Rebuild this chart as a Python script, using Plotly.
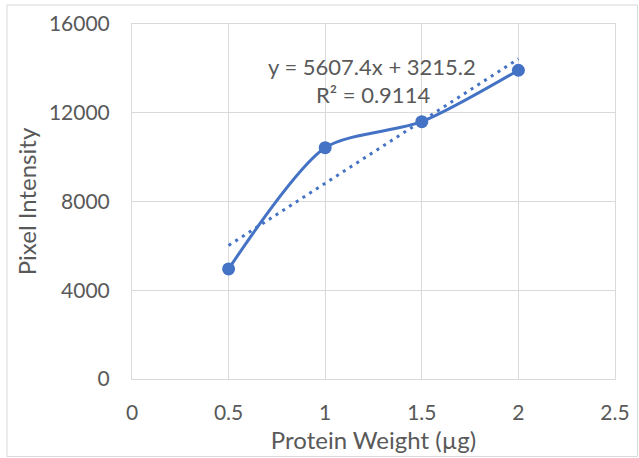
import numpy as np
import plotly.graph_objects as go

protein_ug = [0.5, 1.0, 1.5, 2.0]
pixel_intensity = [4961, 10424, 11596, 13916]
x_ticks = [0, 0.5, 1, 1.5, 2, 2.5]
x_tick_labels = ["0", "0.5", "1", "1.5", "2", "2.5"]
y_ticks = [0, 4000, 8000, 12000, 16000]
y_tick_labels = ["0", "4000", "8000", "12000", "16000"]
eq_text = "y = 5607.4x + 3215.2"
r2_text = "R² = 0.9114"

BLUE = "#4472C4"
GRID = "#D9D9D9"
TXT = "#595959"
FONT = "Lato"

slope, intercept = np.polyfit(protein_ug, pixel_intensity, 1)
trend_x = [min(protein_ug), max(protein_ug)]
trend_y = [slope * v + intercept for v in trend_x]

fig = go.Figure()
fig.add_trace(go.Scatter(x=trend_x, y=trend_y, mode="lines",
                         line=dict(color=BLUE, width=3, dash="3px,5px"),
                         hoverinfo="skip", showlegend=False))
fig.add_trace(go.Scatter(x=protein_ug, y=pixel_intensity, mode="lines+markers",
                         line=dict(color=BLUE, width=3, shape="spline", smoothing=0.75),
                         marker=dict(color=BLUE, size=13),
                         showlegend=False))

W, H = 639, 458
ml, mr, mt, mb = 132, 24, 24, 79
pw, ph = W - ml - mr, H - mt - mb

def px(xp):
    return (xp - ml) / pw

def py(yp):
    return (H - mb - yp) / ph

fig.add_shape(type="rect", xref="paper", yref="paper",
              x0=px(7), x1=px(637.5), y0=py(456.5), y1=py(5),
              line=dict(color=GRID, width=1), layer="below")

fig.add_annotation(x=px(372), y=py(67), xref="paper", yref="paper",
                   xanchor="center", yanchor="middle",
                   text=eq_text, showarrow=False,
                   font=dict(family=FONT, size=22, color=TXT))
fig.add_annotation(x=px(373), y=py(95), xref="paper", yref="paper",
                   xanchor="center", yanchor="middle",
                   text=r2_text, showarrow=False,
                   font=dict(family=FONT, size=22, color=TXT))

fig.update_layout(
    width=W, height=H,
    margin=dict(l=ml, r=mr, t=mt, b=mb, autoexpand=False),
    paper_bgcolor="white", plot_bgcolor="white",
    font=dict(family=FONT, size=22, color=TXT),
    xaxis=dict(range=[0, 2.5], tickvals=x_ticks, ticktext=x_tick_labels,
               showgrid=True, gridcolor=GRID, gridwidth=1,
               showline=True, linecolor=GRID, linewidth=1, mirror=True,
               zeroline=False, ticks="outside", ticklen=15, tickcolor="rgba(0,0,0,0)",
               tickfont=dict(family=FONT, size=21, color=TXT),
               title=dict(text="Protein Weight (µg)", standoff=8,
                          font=dict(family=FONT, size=24, color=TXT))),
    yaxis=dict(range=[0, 16000], tickvals=y_ticks, ticktext=y_tick_labels,
               showgrid=True, gridcolor=GRID, gridwidth=1,
               showline=True, linecolor=GRID, linewidth=1, mirror=True,
               zeroline=False, ticks="outside", ticklen=17, tickcolor="rgba(0,0,0,0)",
               tickfont=dict(family=FONT, size=21, color=TXT),
               title=dict(text="Pixel Intensity", standoff=5,
                          font=dict(family=FONT, size=24, color=TXT))),
)

fig.write_html("out.html")
